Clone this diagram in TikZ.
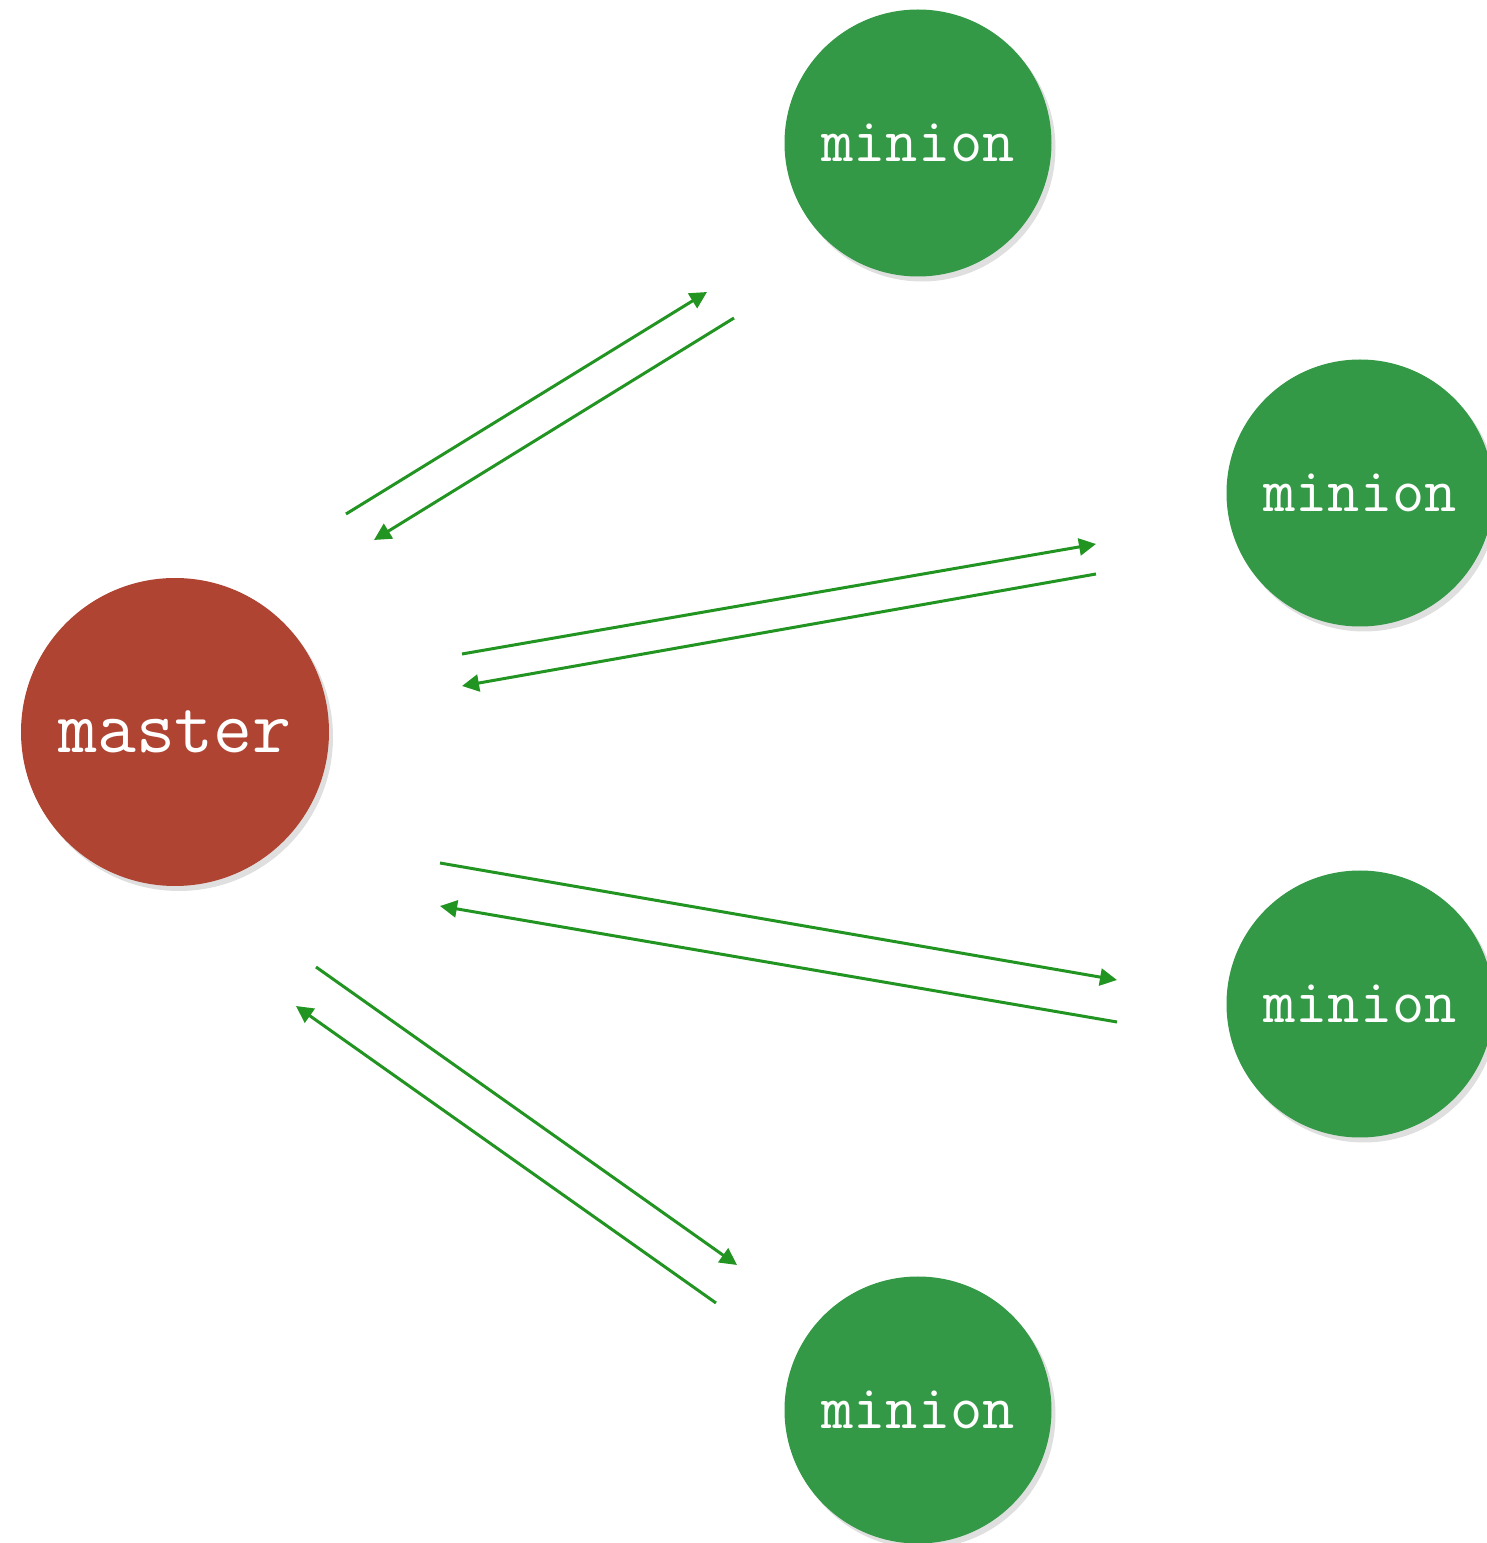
\documentclass[tikz,border=0pt]{standalone}
\usetikzlibrary{shadows,arrows.meta}
\definecolor{masterred}{RGB}{176,68,50}
\definecolor{miniongreen}{RGB}{52,153,70}
\definecolor{linkgreen}{RGB}{34,148,34}
\tikzset{
  master/.style={circle,fill=masterred,minimum size=3.08cm,inner sep=0pt,
    text=white,font=\ttfamily\fontsize{21.5}{24}\selectfont,
    drop shadow={opacity=0.25,shadow xshift=0.04cm,shadow yshift=-0.05cm}},
  minion/.style={circle,fill=miniongreen,minimum size=2.67cm,inner sep=0pt,
    text=white,font=\ttfamily\fontsize{17.8}{20}\selectfont,
    drop shadow={opacity=0.25,shadow xshift=0.04cm,shadow yshift=-0.05cm}},
  link/.style={draw=linkgreen,line width=0.85pt,-{Triangle[length=1.7mm,width=1.7mm]}}
}
\begin{document}
\begin{tikzpicture}
\useasboundingbox (0,0) rectangle (14.87,15.43);

\node[master] (master) at (1.75,8.11) {master};
\node[minion] (m1) at (9.18,14.00) {minion};
\node[minion] (m2) at (13.60,10.50) {minion};
\node[minion] (m3) at (13.60,5.39) {minion};
\node[minion] (m4) at (9.18,1.33) {minion};

% line ends
\coordinate (a1) at (3.46,10.29); \coordinate (b1) at (7.07,12.51);
\coordinate (a2) at (7.34,12.25); \coordinate (b2) at (3.74,10.03);
\coordinate (a3) at (4.62,8.89);  \coordinate (b3) at (10.96,9.99);
\coordinate (a4) at (10.96,9.69); \coordinate (b4) at (4.62,8.57);
\coordinate (a5) at (4.40,6.80);  \coordinate (b5) at (11.17,5.63);
\coordinate (a6) at (11.17,5.21); \coordinate (b6) at (4.40,6.37);
\coordinate (a7) at (3.16,5.76);  \coordinate (b7) at (7.37,2.78);
\coordinate (a8) at (7.16,2.40);  \coordinate (b8) at (2.96,5.37);

\draw[link] (a1) -- (b1);
\draw[link] (a2) -- (b2);
\draw[link] (a3) -- (b3);
\draw[link] (a4) -- (b4);
\draw[link] (a5) -- (b5);
\draw[link] (a6) -- (b6);
\draw[link] (a7) -- (b7);
\draw[link] (a8) -- (b8);
\end{tikzpicture}
\end{document}
